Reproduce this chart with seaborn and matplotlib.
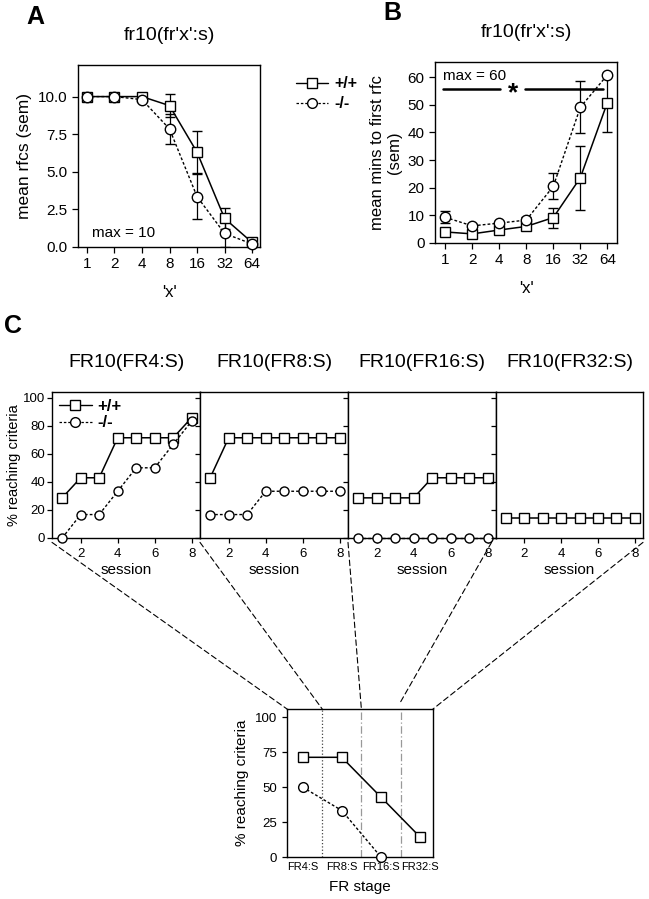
import numpy as np
import pandas as pd
import matplotlib
matplotlib.use("Agg")
import matplotlib.pyplot as plt
import seaborn as sns
from matplotlib.lines import Line2D
from matplotlib.patches import ConnectionPatch

# ---- data ----
x_ratio = [1, 2, 4, 8, 16, 32, 64]

# A: mean rfcs (sem)
a_wt = [10.0, 10.0, 10.0, 9.4, 6.3, 1.9, 0.3]
a_wt_sem = [0, 0, 0, 0.75, 1.4, 0.7, 0]
a_ko = [10.0, 10.0, 9.8, 7.85, 3.35, 0.9, 0.2]
a_ko_sem = [0, 0, 0, 1.0, 1.5, 0.9, 0]

# B: mean mins to first rfc (sem)
b_wt = [4.0, 3.3, 4.7, 6.0, 9.2, 23.6, 50.8]
b_wt_sem = [1.0, 0.6, 1.0, 1.0, 3.6, 11.6, 10.8]
b_ko = [9.3, 6.2, 7.2, 8.3, 20.5, 49.1, 60.8]
b_ko_sem = [2.2, 0.8, 0.8, 1.0, 4.7, 9.4, 0.5]
sig_left = [0.95, 4.1]
sig_right = [7.8, 57.7]
sig_y = 55.6

# C: % reaching criteria per session
session = [1, 2, 3, 4, 5, 6, 7, 8]
c_titles = ["FR10(FR4:S)", "FR10(FR8:S)", "FR10(FR16:S)", "FR10(FR32:S)"]
c_wt = [
    [28.6, 42.9, 42.9, 71.4, 71.4, 71.4, 71.4, 85.7],
    [42.9, 71.4, 71.4, 71.4, 71.4, 71.4, 71.4, 71.4],
    [28.6, 28.6, 28.6, 28.6, 42.9, 42.9, 42.9, 42.9],
    [14.3, 14.3, 14.3, 14.3, 14.3, 14.3, 14.3, 14.3],
]
c_ko = [
    [0.0, 16.7, 16.7, 33.3, 50.0, 50.0, 66.7, 83.3],
    [16.7, 16.7, 16.7, 33.3, 33.3, 33.3, 33.3, 33.3],
    [0.0, 0.0, 0.0, 0.0, 0.0, 0.0, 0.0, 0.0],
    None,
]

# D: summary by FR stage
stages = ["FR4:S", "FR8:S", "FR16:S", "FR32:S"]
d_wt = [71.4, 71.4, 42.9, 14.3]
d_ko = [50.0, 33.3, 0.0, np.nan]

# ---- style ----
sns.set_style("ticks")
plt.rcParams["font.family"] = ["Liberation Sans", "DejaVu Sans"]
plt.rcParams["axes.linewidth"] = 1.0
plt.rcParams["xtick.major.width"] = 0.9
plt.rcParams["ytick.major.width"] = 0.9
for key in ["xtick.color", "ytick.color", "axes.edgecolor", "text.color",
            "axes.labelcolor", "xtick.labelcolor", "ytick.labelcolor"]:
    plt.rcParams[key] = "k"

W, H = 649, 899
fig = plt.figure(figsize=(W / 100, H / 100), dpi=100)


def rect(l, t, r, b):
    return [l / W, 1 - b / H, (r - l) / W, (b - t) / H]


KO_LS = (0, (2, 1.5))
wt_kw = dict(color="k", marker="s", markersize=7.5, markerfacecolor="white",
             markeredgecolor="k", markeredgewidth=1.0, linewidth=1.1,
             linestyle="-", clip_on=False, zorder=3)
ko_kw = dict(color="k", marker="o", markersize=7.5, markerfacecolor="white",
             markeredgecolor="k", markeredgewidth=1.0, linewidth=1.0,
             linestyle=KO_LS, clip_on=False, zorder=3)


def series(ax, x, y, kw, ms=None):
    df = pd.DataFrame({"x": x, "y": y}).dropna()
    k = dict(kw)
    if ms:
        k["markersize"] = ms
    sns.lineplot(data=df, x="x", y="y", ax=ax, errorbar=None, sort=False, **k)


def boxed(ax):
    for s in ax.spines.values():
        s.set_visible(True)
        s.set_color("k")


# ---- panel A ----
axA = fig.add_axes(rect(78, 65, 260, 247))
axA.errorbar(x_ratio, a_wt, yerr=a_wt_sem, fmt="none", ecolor="k",
             elinewidth=0.9, capsize=3.5, zorder=2)
axA.errorbar(x_ratio, a_ko, yerr=a_ko_sem, fmt="none", ecolor="k",
             elinewidth=0.9, capsize=3.5, zorder=2)
series(axA, x_ratio, a_wt, wt_kw)
series(axA, x_ratio, a_ko, ko_kw)
axA.set_xscale("log", base=2)
axA.set_xlim(0.8, 78)
axA.set_xticks(x_ratio, [str(v) for v in x_ratio])
axA.minorticks_off()
axA.set_ylim(0, 12.1)
axA.set_yticks([0, 2.5, 5, 7.5, 10], ["0.0", "2.5", "5.0", "7.5", "10.0"])
axA.tick_params(labelsize=11, length=4)
axA.set_xlabel("'x'", fontsize=12, labelpad=10)
axA.set_ylabel("mean rfcs (sem)", fontsize=12.5)
axA.set_title("fr10(fr'x':s)", fontsize=14, pad=18)
axA.text(1.13, 0.9, "max = 10", fontsize=11, va="center")
boxed(axA)

leg_handles = [
    Line2D([], [], color="k", marker="s", markersize=7, markerfacecolor="white",
           markeredgecolor="k", linestyle="-", linewidth=1.0),
    Line2D([], [], color="k", marker="o", markersize=7, markerfacecolor="white",
           markeredgecolor="k", linestyle=KO_LS, linewidth=0.9),
]
fig.legend(leg_handles, ["+/+", "-/-"], loc="upper left",
           bbox_to_anchor=(282 / W, 1 - 62 / H), frameon=False,
           prop={"size": 11.5, "weight": "bold"}, handlelength=2.0,
           handletextpad=0.4, labelspacing=0.3)

# ---- panel B ----
axB = fig.add_axes(rect(435, 62, 617, 243))
axB.errorbar(x_ratio, b_wt, yerr=b_wt_sem, fmt="none", ecolor="k",
             elinewidth=0.9, capsize=3.5, zorder=2)
axB.errorbar(x_ratio, b_ko, yerr=b_ko_sem, fmt="none", ecolor="k",
             elinewidth=0.9, capsize=3.5, zorder=2)
series(axB, x_ratio, b_wt, wt_kw)
series(axB, x_ratio, b_ko, ko_kw)
axB.plot(sig_left, [sig_y, sig_y], color="k", lw=1.8)
axB.plot(sig_right, [sig_y, sig_y], color="k", lw=1.8)
axB.text(np.sqrt(sig_left[1] * sig_right[0]), sig_y - 1.5, "*", fontsize=19,
         fontweight="bold", ha="center", va="center")
axB.text(0.95, 60.5, "max = 60", fontsize=11, va="center")
axB.set_xscale("log", base=2)
axB.set_xlim(0.77, 82)
axB.set_xticks(x_ratio, [str(v) for v in x_ratio])
axB.minorticks_off()
axB.set_ylim(0, 65.5)
axB.set_yticks(range(0, 61, 10))
axB.tick_params(labelsize=11, length=4)
axB.set_xlabel("'x'", fontsize=12, labelpad=10)
axB.set_ylabel("mean mins to first rfc\n(sem)", fontsize=12)
axB.set_title("fr10(fr'x':s)", fontsize=14, pad=18)
boxed(axB)

fig.text(35 / W, 1 - 17 / H, "A", fontsize=18, fontweight="bold", ha="center", va="center")
fig.text(392 / W, 1 - 13 / H, "B", fontsize=18, fontweight="bold", ha="center", va="center")
fig.text(13 / W, 1 - 326 / H, "C", fontsize=18, fontweight="bold", ha="center", va="center")

# ---- panel C ----
c_edges = [52, 200, 348, 496, 643]
axC = []
for i in range(4):
    ax = fig.add_axes(rect(c_edges[i], 392, c_edges[i + 1], 538))
    series(ax, session, c_wt[i], wt_kw, ms=6.5)
    if c_ko[i] is not None:
        series(ax, session, c_ko[i], ko_kw, ms=6.5)
    ax.set_xlim(0.45, 8.45)
    ax.set_ylim(0, 104)
    ax.set_xticks([2, 4, 6, 8])
    ax.set_yticks(range(0, 101, 20))
    ax.tick_params(labelsize=9.5, length=3.5)
    ax.tick_params(axis="y", pad=1.5)
    if i > 0:
        ax.tick_params(labelleft=False)
        ax.set_ylabel("")
    else:
        ax.set_ylabel("% reaching criteria", fontsize=10.5, labelpad=1)
    ax.set_xlabel("session", fontsize=11, labelpad=2)
    ax.set_title(c_titles[i], fontsize=14, pad=18)
    boxed(ax)
    axC.append(ax)

axC[0].legend(leg_handles, ["+/+", "-/-"], loc="upper left", frameon=False,
              prop={"size": 12, "weight": "bold"}, handlelength=2.0,
              handletextpad=0.3, labelspacing=0.1, borderaxespad=0.2,
              borderpad=0.2)

# ---- panel D ----
axD = fig.add_axes(rect(287, 709, 433, 857))
stage_pos = list(range(len(stages)))
for xv, ls, c in zip([0.5, 1.5, 2.5], [":", (0, (6, 2, 1, 2)), (0, (6, 2, 1, 2))],
                     ["#444444", "#999999", "#999999"]):
    axD.axvline(xv, color=c, lw=0.9, linestyle=ls, zorder=1)
series(axD, stage_pos, d_wt, wt_kw, ms=7)
series(axD, stage_pos, d_ko, ko_kw, ms=7)
axD.set_xlim(-0.4, 3.33)
axD.set_ylim(0, 106)
axD.set_xticks(stage_pos, stages)
axD.set_yticks(range(0, 101, 25))
axD.tick_params(axis="x", labelsize=8, length=0)
axD.tick_params(axis="y", labelsize=9.5, length=3.5)
axD.set_xlabel("FR stage", fontsize=11, labelpad=6)
axD.set_ylabel("% reaching criteria", fontsize=11)
boxed(axD)

# ---- connectors from panel C to panel D ----
top = axD.get_ylim()[1]
starts = [(axC[0], 0.0), (axC[0], 1.0), (axC[1], 1.0), (axC[2], 0.97), (axC[3], 1.0)]
ends = [(axD.get_xlim()[0], top), (0.5, top), (1.5, top), (2.5, top + 5),
        (axD.get_xlim()[1], top)]
for (ax, fx), (ex, ey) in zip(starts, ends):
    con = ConnectionPatch(xyA=(fx, -0.03), coordsA=ax.transAxes,
                          xyB=(ex, ey), coordsB=axD.transData,
                          linestyle=(0, (5, 3)), lw=0.8, color="k")
    fig.add_artist(con)

fig.savefig("out.png", dpi=100)
